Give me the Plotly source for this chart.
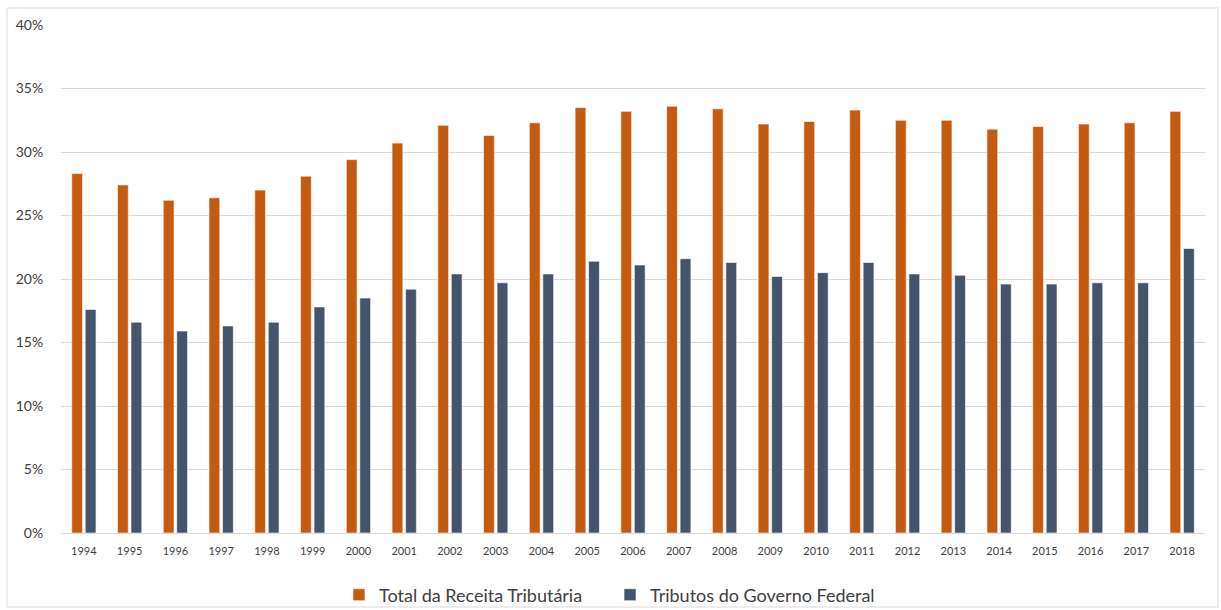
import plotly.graph_objects as go

# Carga tributária bruta em % do PIB, 1994-2018
anos = [str(a) for a in range(1994, 2019)]
total_receita = [28.3, 27.4, 26.2, 26.4, 27.0, 28.1, 29.4, 30.7, 32.1, 31.3,
                 32.3, 33.5, 33.2, 33.6, 33.4, 32.2, 32.4, 33.3, 32.5, 32.5,
                 31.8, 32.0, 32.2, 32.3, 33.2]
tributos_federais = [17.6, 16.6, 15.9, 16.3, 16.6, 17.8, 18.5, 19.2, 20.4, 19.7,
                     20.4, 21.4, 21.1, 21.6, 21.3, 20.2, 20.5, 21.3, 20.4, 20.3,
                     19.6, 19.6, 19.7, 19.7, 22.4]
y_ticks = [0, 5, 10, 15, 20, 25, 30, 35, 40]
y_ticktext = [f"{v}%" for v in y_ticks]

LARANJA = "#C55A11"
AZUL = "#44546A"
FONTE = "Lato, 'Open Sans', sans-serif"

fig = go.Figure()
fig.add_trace(go.Bar(
    x=anos, y=total_receita, name="Total da Receita Tributária",
    marker=dict(color=LARANJA, line=dict(color="rgba(255,255,255,0.6)", width=1)),
))
fig.add_trace(go.Bar(
    x=anos, y=tributos_federais, name="Tributos do Governo Federal",
    marker=dict(color=AZUL, line=dict(color="rgba(255,255,255,0.6)", width=1)),
))

L, R, T, B = 61, 16, 25, 77
W, H = 1221, 610
pw, ph = W - L - R, H - T - B

def px_x(x):
    return (x - L) / pw

def px_y(y):
    return (H - B - y) / ph

fig.update_layout(
    width=W, height=H,
    margin=dict(l=L, r=R, t=T, b=B, pad=0, autoexpand=False),
    paper_bgcolor="white", plot_bgcolor="white",
    barmode="group", bargap=0.41, bargroupgap=0.2,
    font=dict(family=FONTE, color="#595959"),
    showlegend=True,
    legend=dict(
        orientation="h", xref="container", yref="container",
        x=610 / W, xanchor="center",
        y=(H - 595) / H, yanchor="middle",
        bgcolor="rgba(0,0,0,0)",
        font=dict(size=18, color="#404040", family=FONTE),
        itemwidth=30, traceorder="normal",
        entrywidth=226, entrywidthmode="pixels",
    ),
    xaxis=dict(
        type="category", showgrid=False, showline=False, zeroline=False,
        tickfont=dict(size=11, color="#404040"),
        ticks="outside", ticklen=8, tickcolor="rgba(0,0,0,0)",
    ),
    yaxis=dict(
        range=[0, 40], tickvals=y_ticks, ticktext=y_ticktext,
        showgrid=True, gridcolor="#D9D9D9", gridwidth=1,
        zeroline=True, zerolinecolor="#D9D9D9", zerolinewidth=1,
        showline=False, tickfont=dict(size=14, color="#404040"),
        ticks="outside", ticklen=14, tickcolor="rgba(0,0,0,0)",
    ),
    shapes=[dict(
        type="rect", xref="paper", yref="paper",
        x0=px_x(7), x1=px_x(1218), y0=px_y(607), y1=px_y(8),
        line=dict(color="#D9D9D9", width=1), fillcolor="rgba(0,0,0,0)",
        layer="below",
    )],
)

fig.write_html("out.html")
